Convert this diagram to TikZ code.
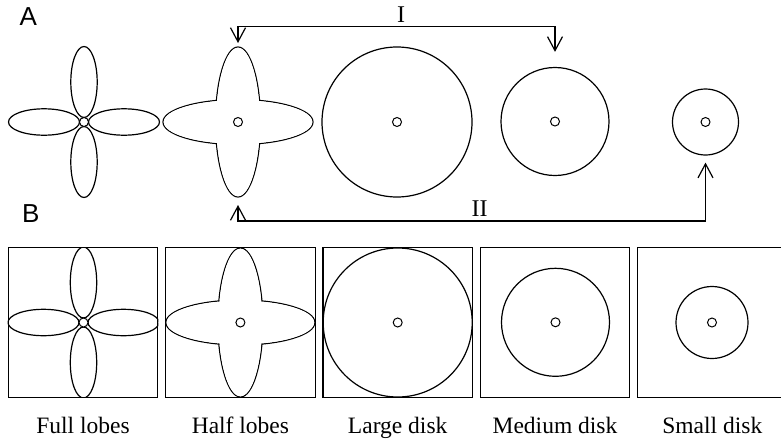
\documentclass[tikz,border=0pt]{standalone}
\usepackage{fontspec}
\setmainfont{Liberation Serif}
\newfontfamily\labsans{Liberation Sans}
\usetikzlibrary{arrows.meta}
\newcommand{\fulllobesat}[2]{%
  \begin{scope}[shift={(#1,#2)}]
    \draw[ln] (-40,0) ellipse [x radius=35.5, y radius=13.2];
    \draw[ln] (40,0) ellipse [x radius=35.5, y radius=13.2];
    \draw[ln] (0,-40) ellipse [x radius=13.2, y radius=35.5];
    \draw[ln] (0,40) ellipse [x radius=13.2, y radius=35.5];
  \end{scope}}
\newcommand{\halflobesat}[3]{%
  \begin{scope}[shift={(#1,#2)}]
    \draw[ln] (0,0) ellipse [x radius=#3, y radius=22.5];
    \draw[ln] (0,0) ellipse [x radius=22.5, y radius=#3];
    \fill[white] (0,0) ellipse [x radius=#3-0.7, y radius=21.8];
    \fill[white] (0,0) ellipse [x radius=21.8, y radius=#3-0.7];
  \end{scope}}
\begin{document}
\begin{tikzpicture}[x=1pt,y=-1pt,
  ln/.style={line width=1.2pt},
  disk/.style={circle,draw,line width=1.2pt,inner sep=0pt,minimum size=#1},
  hub/.style={circle,draw,line width=1pt,inner sep=0pt,minimum size=9pt,fill=white},
  frame/.style={draw,line width=1.2pt,inner sep=0pt,minimum size=149.4pt},
  arr/.style={line width=1.2pt,line join=miter,
    {Straight Barb[length=14pt,width=15pt,line width=1.2pt]}-{Straight Barb[length=14pt,width=15pt,line width=1.2pt]}},
  captxt/.style={font=\fontsize{23.5}{28}\selectfont,anchor=base,inner sep=0pt},
  panel/.style={font=\labsans\fontsize{26}{30}\selectfont,inner sep=0pt},
  roman/.style={font=\fontsize{24}{28}\selectfont,inner sep=0pt}]
\useasboundingbox (0,0) rectangle (781,439);
\clip (0,0) rectangle (781,439);

% panel labels
\node[panel,anchor=west] (labA) at (19.5,17) {A};
\node[panel,anchor=west] (labB) at (22,214) {B};

% ---- row A ----
\fulllobesat{84}{122}
\node[hub] (flA) at (84,122) {};
\halflobesat{238}{122}{75}
\node[hub] (hlA) at (238,122) {};
\node[disk=150pt] (ldA) at (397,122) {};
\node[hub] (ldAc) at (397,122) {};
\node[disk=108pt] (mdA) at (555,121.5) {};
\node[hub] (mdAc) at (555,121.5) {};
\node[disk=66pt] (sdA) at (705.5,122) {};
\node[hub] (sdAc) at (705.5,122) {};

% connectors
\coordinate (hlAt) at (238,43);
\coordinate (hlAb) at (238,205);
\coordinate (Ilev) at (0,26.7);
\coordinate (IIlev) at (0,221);
\draw[arr] (hlAt) -- (hlAt |- Ilev) -| ([yshift=15pt]mdA.north);
\draw[arr] (hlAb) -- (hlAb |- IIlev) -| ([yshift=-7pt]sdA.south);
\node[roman] (labI) at (401,14.5) {I};
\node[roman] (labII) at (479.5,209) {II};

% ---- row B ----
\node[frame] (bx1) at (83,322.5) {};
\node[frame] (bx2) at (240.4,322.5) {};
\node[frame] (bx3) at (397.7,322.5) {};
\node[frame] (bx4) at (555,322.5) {};
\node[frame] (bx5) at (712.3,322.5) {};

\begin{scope}
  \clip (bx1.south west) rectangle (bx1.north east);
  \fulllobesat{83.5}{322.5}
\end{scope}
\node[hub] (flB) at (83.5,322.5) {};
\halflobesat{240.4}{322.5}{74.5}
\node[hub] (hlB) at (240.4,322.5) {};
\node[disk=149pt] (ldB) at (397.7,322.5) {};
\node[hub] (ldBc) at (397.7,322.5) {};
\node[disk=108pt] (mdB) at (555.5,322.3) {};
\node[hub] (mdBc) at (555.5,322.3) {};
\node[disk=72pt] (sdB) at (712,322.5) {};
\node[hub] (sdBc) at (712,322.5) {};

% captions
\node[captxt] (c1) at (83,433) {Full lobes};
\node[captxt] (c2) at (240.4,433) {Half lobes};
\node[captxt] (c3) at (397.7,433) {Large disk};
\node[captxt] (c4) at (555,433) {Medium disk};
\node[captxt] (c5) at (712.3,433) {Small disk};
\end{tikzpicture}
\end{document}
